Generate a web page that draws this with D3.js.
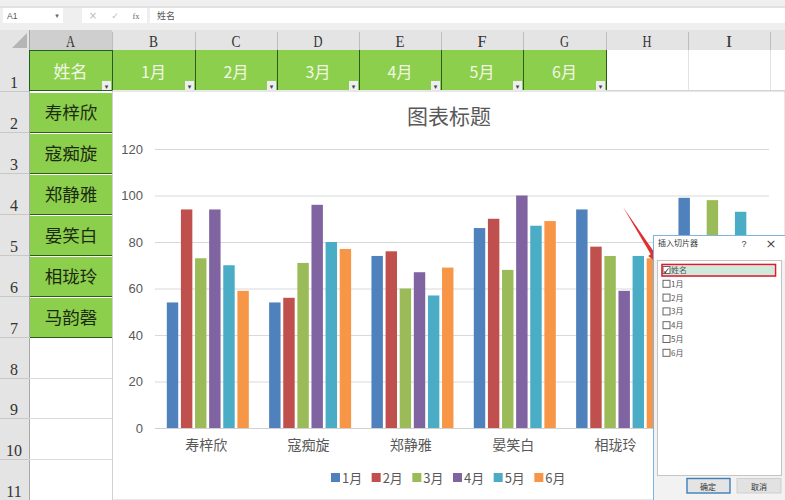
<!DOCTYPE html>
<html><head><meta charset="utf-8">
<script src="https://cdn.jsdelivr.net/npm/d3@7/dist/d3.min.js"></script>
<style>html,body{margin:0;padding:0;background:#fff;overflow:hidden}svg{display:block}</style></head>
<body><svg id="c" width="785" height="500"></svg>
<script>
const names = ["寿梓欣","寇痴旋","郑静雅","晏笑白","相珑玲","马韵磬"];
const months = ["1月","2月","3月","4月","5月","6月"];
const m1 = [54,54,74,86,94,99];
const m2 = [94,56,76,90,78,70];
const m3 = [73,71,60,68,74,98];
const m4 = [94,96,67,100,59,65];
const m5 = [70,80,57,87,74,93];
const m6 = [59,77,69,89,73,75];
const colors = ["#4f81bd","#c0504d","#9bbb59","#8064a2","#4bacc6","#f79646"];
const yTicks = [0,20,40,60,80,100,120];
const colLetters = ["A","B","C","D","E","F","G","H","I"];
const colEdges = [29,112,195,277,359,441,523,606,688,770];
const rowLabels = ["1","2","3","4","5","6","7","8","9","10","11"];
const rowEdges = [50,91,132,173,214,255,296,337,378,418,459,500];
const dialogFields = ["姓名","1月","2月","3月","4月","5月","6月"];

const series = [m1,m2,m3,m4,m5,m6];
const cjk = "'Noto Sans CJK SC',sans-serif";
const serif = "'Liberation Serif',serif";
const svg = d3.select("#c");
const rect=(g,x,y,w,h,f,s)=>g.append("rect").attr("x",x).attr("y",y).attr("width",w).attr("height",h).attr("fill",f).attr("stroke",s||"none");
const line=(g,a,b,c,d,s,w)=>g.append("line").attr("x1",a).attr("y1",b).attr("x2",c).attr("y2",d).attr("stroke",s).attr("stroke-width",w||1);
const text=(g,x,y,t,size,fill,fam,anchor)=>g.append("text").attr("x",x).attr("y",y).text(t).attr("font-size",size).attr("fill",fill).attr("font-family",fam||cjk).attr("text-anchor",anchor||"middle");

/* toolbar */
const tb = svg.append("g");
rect(tb,0,0,785,30,"#efefef");
line(tb,0,7,785,7,"#d4d4d4");
rect(tb,3,8,60,15,"#fff");
text(tb,7,19,"A1",8.5,"#555","'Liberation Sans',sans-serif","start");
text(tb,57,18,"▾",7,"#666","'DejaVu Sans'");
rect(tb,82,8,65,15,"#fff");
text(tb,93,19,"×",10,"#bbb","'DejaVu Sans'");
text(tb,115,19,"✓",9,"#bbb","'DejaVu Sans'");
text(tb,136,19,"fx",8.5,"#666",serif);
rect(tb,150,8,635,15,"#fff");
text(tb,157,19,"姓名",9,"#555",cjk,"start");

/* sheet headers */
const sh = svg.append("g");
rect(sh,0,30,785,20,"#e4e4e4");
rect(sh,0,30,29,470,"#e4e4e4");
rect(sh,29,30,83,20,"#cfcfcf");
sh.append("path").attr("d",d3.line()([[12,48],[27,33],[27,48]])).attr("fill","#b5b5b5");
colLetters.forEach((c,i)=>{
  text(sh,(colEdges[i]+colEdges[i+1])/2,47,c,16,"#333",serif).attr("textLength",c==="I"?6:9).attr("lengthAdjust","spacingAndGlyphs");
  line(sh,colEdges[i+1]+.5,32,colEdges[i+1]+.5,50,"#bdbdbd");
});
rowLabels.forEach((r,i)=>{
  text(sh,14,rowEdges[i+1]-3.5,r,16,"#333",serif);
  line(sh,0,rowEdges[i+1]+.5,29,rowEdges[i+1]+.5,"#c8c8c8");
});
line(sh,29.5,30,29.5,500,"#a8a8a8");
/* empty grid */
rowEdges.slice(7).forEach(y=>line(sh,29,y+.5,112,y+.5,"#dcdcdc"));
colEdges.slice(7).forEach(x=>line(sh,x+.5,50,x+.5,91,"#e2e2e2"));
line(sh,606,90.5,785,90.5,"#d8d8d8");

/* green table cells */
const green="#8ccf4d";
const gc = svg.append("g");
const headers=["姓名"].concat(months);
headers.forEach((h,i)=>rect(gc,colEdges[i],50,colEdges[i+1]-colEdges[i],40,green));
headers.forEach((h,i)=>{
  text(gc,(colEdges[i]+colEdges[i+1])/2,78,h,i?16:17,"#f2f7e4",cjk);
  line(gc,colEdges[i+1]+.5,50,colEdges[i+1]+.5,90,"#2e5a1c");
  rect(gc,colEdges[i+1]-10,81,9,9,"#eeeef2");
  text(gc,colEdges[i+1]-5.5,88.5,"▾",7,"#444","'DejaVu Sans'");
});
rect(gc,29.5,50.5,83,40,"none","#245a28");
names.forEach((n,i)=>{
  rect(gc,30,rowEdges[i+1]+2,82,39,green);
  line(gc,30,rowEdges[i+2]+.5,112,rowEdges[i+2]+.5,"#2e5a1c");
  text(gc,71,rowEdges[i+1]+28,n,17.5,"#1c2a10",cjk);
});

/* chart */
const chart = svg.append("g");
rect(chart,112.5,91,672.5,409,"#fff","#d0d0d0");
text(chart,449,124,"图表标题",21,"#595959",cjk);
const x0 = d3.scaleBand().domain(names).range([155,769]);
const x1 = d3.scaleBand().domain(months).range([0,82]).paddingInner(0.19).paddingOuter(0);
const y = d3.scaleLinear().domain([0,120]).range([428,149]);
const axisY = chart.append("g").attr("transform","translate(155,0)").call(d3.axisLeft(y).tickValues(yTicks).tickSize(-614).tickPadding(12));
axisY.select(".domain").remove();
axisY.selectAll("line").attr("stroke","#d9d9d9");
axisY.selectAll("text").attr("font-size",13).attr("fill","#595959").attr("font-family","'Liberation Sans',sans-serif");
const axisX = chart.append("g").attr("transform","translate(0,428)").call(d3.axisBottom(x0).tickSize(0).tickPadding(12));
axisX.select(".domain").attr("stroke","#d0d0d0");
axisX.selectAll("text").attr("font-size",14).attr("fill","#595959").attr("font-family",cjk);
series.forEach((vals,s)=>{
  chart.append("g").selectAll("rect").data(vals).join("rect")
    .attr("x",(d,i)=>x0(names[i])+11.8+x1(months[s]))
    .attr("y",d=>y(d)).attr("width",x1.bandwidth())
    .attr("height",d=>y(0)-y(d)).attr("fill",colors[s]);
});
const leg = chart.append("g");
const legX = d3.scaleBand().domain(months).range([331,575]);
months.forEach((m,i)=>{
  rect(leg,legX(m),473,9,9,colors[i]);
  text(leg,legX(m)+11,483,m,13,"#595959",cjk,"start");
});

/* arrow */
const dlg = svg.append("g");
dlg.append("path").attr("d",d3.line()([[623,207],[654.1,252.1],[656.6,250.5],[660,265],[648.2,255.9],[650.7,254.3]])).attr("fill","#e03030");

/* dialog */
rect(dlg,653.5,235.5,132,265,"#f2f2f2","#7fb2dc");
rect(dlg,654,236,131,24,"#fff");
text(dlg,658,246,"插入切片器",8,"#333",cjk,"start");
text(dlg,744,247,"?",9,"#444","'Liberation Sans',sans-serif");
text(dlg,771,248,"×",13,"#444","'DejaVu Sans'");
rect(dlg,657.5,260.5,124,215,"#fff","#c4c4c4");
rect(dlg,663,266,111,9,"#cfeadb");
dialogFields.forEach((f,i)=>{
  const ty = 270+i*13.8;
  rect(dlg,663,ty-3.5,7,7,"#fff","#666");
  text(dlg,671,ty+3,f,8,"#555",cjk,"start");
});
rect(dlg,662,264.5,113.5,11.5,"none","#d81e2c").attr("stroke-width",1.6);
text(dlg,666.5,273.5,"✓",9,"#222","'DejaVu Sans'");
rect(dlg,687,478.5,43,14.5,"#e4e4e4","#3c7fb8").attr("stroke-width",1.4);
text(dlg,708,489.5,"确定",8,"#333",cjk);
rect(dlg,737,478.5,44,14.5,"#e2e2e2","#cfcfcf");
text(dlg,759,489.5,"取消",8,"#333",cjk);
</script></body></html>
